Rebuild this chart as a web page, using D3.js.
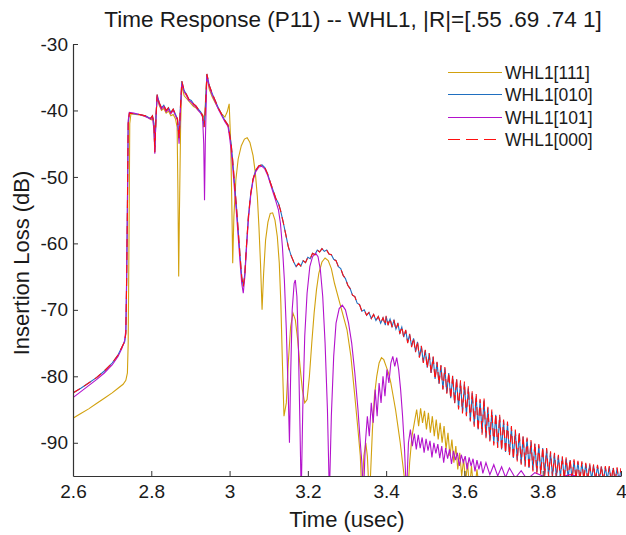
<!DOCTYPE html>
<html><head><meta charset="utf-8">
<script src="https://cdn.jsdelivr.net/npm/d3@7/dist/d3.min.js"></script>
<style>body{margin:0;background:#fff} svg{display:block} text{font-family:"Liberation Sans",Arial,sans-serif;fill:#1a1a1a}</style>
</head><body><svg id="c" width="626" height="535"></svg>
<script>
const xTicks=[2.6,2.8,3,3.2,3.4,3.6,3.8,4];
const yTicks=[-90,-80,-70,-60,-50,-40,-30];
const seriesNames=["WHL1[111]","WHL1[010]","WHL1[101]","WHL1[000]"];
const seriesColors=["#D2A10E","#1F6FC0","#B312CC","#FF1010"];

const whl111=[[2.600,-86.3],[2.620,-85.6],[2.640,-84.9],[2.660,-84.1],[2.680,-83.3],[2.700,-82.5],[2.715,-81.8],[2.728,-81.2],[2.735,-80.6],[2.739,-79.5],[2.741,-75],[2.743,-60],[2.745,-42],[2.748,-40.5],[2.760,-40.6],[2.775,-40.7],[2.790,-41.0],[2.800,-41.4],[2.805,-41.2],[2.809,-45.5],[2.812,-41],[2.815,-38.0],[2.820,-39.2],[2.826,-40.0],[2.832,-39.7],[2.838,-40.4],[2.844,-40.1],[2.850,-40.8],[2.856,-40.6],[2.862,-41.3],[2.866,-42.5],[2.868,-52],[2.870,-65],[2.872,-55],[2.875,-42],[2.878,-36.2],[2.884,-37.8],[2.890,-38.2],[2.896,-38.6],[2.902,-39.0],[2.908,-39.4],[2.914,-39.6],[2.920,-40.0],[2.926,-40.3],[2.931,-40.6],[2.936,-41.2],[2.939,-38],[2.942,-35.0],[2.948,-36.8],[2.956,-38.0],[2.964,-38.9],[2.972,-39.8],[2.980,-40.5],[2.988,-41.0],[2.994,-40.2],[2.999,-39.0],[3.003,-45],[3.006,-55],[3.008,-63],[3.011,-56],[3.016,-50.5],[3.022,-47.3],[3.030,-45.3],[3.038,-44.3],[3.045,-44.1],[3.052,-44.8],[3.060,-46.8],[3.066,-49.5],[3.071,-53],[3.075,-57.5],[3.079,-63],[3.083,-70],[3.087,-64.5],[3.092,-59.5],[3.098,-56.8],[3.104,-55.5],[3.110,-55.4],[3.116,-56.5],[3.122,-59],[3.127,-63],[3.131,-69],[3.135,-78],[3.139,-86],[3.145,-84],[3.150,-78],[3.156,-72.5],[3.162,-70.5],[3.168,-71.5],[3.174,-74.5],[3.180,-78.5],[3.186,-82],[3.192,-84],[3.198,-83.5],[3.204,-80],[3.210,-75],[3.216,-70.5],[3.222,-67],[3.228,-64.5],[3.236,-62.8],[3.244,-62.2],[3.252,-62.6],[3.260,-63.8],[3.268,-66],[3.284,-69.5],[3.300,-73],[3.310,-77],[3.320,-83],[3.328,-88],[3.334,-92],[3.338,-98],[3.343,-92],[3.348,-90],[3.352,-92],[3.356,-97],[3.360,-95],[3.365,-88],[3.370,-83],[3.376,-80],[3.382,-78],[3.388,-77.2],[3.394,-77.5],[3.400,-78.5],[3.406,-79.5],[3.412,-81],[3.418,-83],[3.424,-85],[3.430,-87.5],[3.436,-90],[3.442,-93],[3.448,-96],[3.454,-99],[3.460,-93],[3.466,-89],[3.472,-87],[3.478,-85],[3.483,-87.5],[3.488,-84.8],[3.493,-87],[3.498,-85.2],[3.503,-88],[3.508,-85.5],[3.513,-88.5],[3.518,-86],[3.523,-89],[3.528,-86.5],[3.533,-89.5],[3.538,-87],[3.543,-90],[3.548,-87.5],[3.553,-91],[3.558,-88.5],[3.563,-92],[3.568,-89.5],[3.573,-93],[3.578,-90.5],[3.583,-94],[3.588,-91.5],[3.593,-95],[3.598,-92.5],[3.603,-96],[3.608,-93],[3.613,-97],[3.618,-93.5],[3.625,-98],[3.632,-94],[3.640,-98],[3.650,-95],[3.660,-99],[3.670,-95.5],[3.685,-100],[3.720,-101],[4.000,-103]];

const whl010=[[2.600,-82.5],[2.620,-81.8],[2.640,-81.0],[2.660,-80.2],[2.680,-79.2],[2.700,-78.0],[2.715,-76.8],[2.725,-75.6],[2.732,-74.8],[2.735,-73.5],[2.737,-66],[2.739,-55],[2.741,-42],[2.744,-40.4],[2.755,-40.5],[2.770,-40.6],[2.785,-40.8],[2.798,-41.2],[2.803,-40.8],[2.807,-42],[2.809,-46.3],[2.812,-41],[2.815,-37.6],[2.820,-38.8],[2.826,-39.6],[2.832,-39.2],[2.838,-40.0],[2.844,-39.6],[2.850,-40.3],[2.856,-39.8],[2.862,-40.6],[2.867,-41.3],[2.871,-44.2],[2.874,-40],[2.878,-35.6],[2.884,-37.0],[2.890,-37.6],[2.896,-38.3],[2.902,-38.5],[2.908,-39.0],[2.914,-39.3],[2.920,-39.8],[2.926,-40.2],[2.931,-40.8],[2.935,-42.5],[2.938,-40],[2.942,-34.5],[2.948,-36.2],[2.956,-37.5],[2.964,-38.6],[2.972,-39.7],[2.980,-40.6],[2.988,-41.5],[2.996,-42.2],[3.000,-43.5],[3.004,-45.0],[3.008,-47.5],[3.012,-50.5],[3.017,-54.0],[3.022,-58.0],[3.027,-62.0],[3.031,-65.0],[3.035,-66.5],[3.039,-64.5],[3.043,-60.5],[3.048,-56.0],[3.054,-52.5],[3.060,-50.3],[3.067,-49.0],[3.075,-48.3],[3.083,-48.2],[3.090,-48.6],[3.097,-49.5],[3.104,-50.8],[3.111,-52.0],[3.118,-53.2],[3.125,-54.0],[3.130,-55.0],[3.137,-56.8],[3.143,-58.5],[3.150,-60.5],[3.157,-61.8],[3.164,-62.8],[3.170,-63.5],[3.176,-63.0],[3.182,-63.4],[3.188,-62.6],[3.194,-62.9],[3.200,-62.1],[3.206,-62.3],[3.212,-61.5],[3.218,-61.7],[3.224,-61.0],[3.230,-61.3],[3.236,-60.8],[3.242,-61.2],[3.248,-61.0],[3.254,-61.6],[3.260,-61.7],[3.266,-62.4],[3.272,-62.6],[3.278,-63.5],[3.284,-63.8],[3.290,-64.8],[3.296,-65.3],[3.302,-66.3],[3.308,-66.8],[3.314,-67.8],[3.320,-68.0],[3.326,-69.0],[3.332,-69.2],[3.338,-70.2],[3.344,-70.0],[3.350,-70.8],[3.356,-70.4],[3.362,-71.3],[3.368,-70.7],[3.374,-71.6],[3.380,-71.0],[3.386,-72.0],[3.392,-71.2],[3.398,-72.3],
[3.400,-71.0],[3.405,-72.2],[3.410,-71.4],[3.415,-72.5],[3.420,-71.6],[3.425,-72.9],[3.430,-72.1],[3.435,-73.5],[3.440,-72.6],[3.445,-74.1],[3.450,-73.1],[3.455,-74.9],[3.460,-73.7],[3.465,-75.5],[3.470,-74.3],[3.475,-76.3],[3.480,-74.8],[3.485,-77.1],[3.490,-75.5],[3.495,-77.9],[3.500,-76.1],[3.505,-78.7],[3.510,-76.6],[3.515,-79.5],[3.520,-77.1],[3.525,-80.4],[3.530,-77.9],[3.535,-81.1],[3.540,-78.4],[3.545,-81.9],[3.550,-78.8],[3.555,-82.5],[3.560,-79.5],[3.565,-83.3],[3.570,-80.0],[3.575,-84.0],[3.580,-80.5],[3.585,-84.8],[3.590,-80.9],[3.595,-85.4],[3.600,-81.2],[3.605,-85.8],[3.610,-81.8],[3.615,-86.6],[3.620,-82.5],[3.625,-87.3],[3.630,-83.0],[3.635,-88.0],[3.640,-83.6],[3.645,-88.5],[3.650,-83.6],[3.655,-89.1],[3.660,-84.8],[3.665,-89.6],[3.670,-85.3],[3.675,-90.1],[3.680,-85.8],[3.685,-90.6],[3.690,-86.1],[3.695,-91.0],[3.700,-86.7],[3.705,-91.4],[3.710,-87.1],[3.715,-91.8],[3.720,-87.7],[3.725,-92.3],[3.730,-88.2],[3.735,-92.6],[3.740,-88.6],[3.745,-93.1],[3.750,-89.1],[3.755,-93.4],[3.760,-89.4],[3.765,-93.8],[3.770,-89.8],[3.775,-94.1],[3.780,-90.2],[3.785,-94.4],[3.790,-90.4],[3.795,-94.6],[3.800,-90.8],[3.805,-94.8],[3.810,-91.0],[3.815,-95.0],[3.820,-91.5],[3.825,-95.1],[3.830,-91.7],[3.835,-95.3],[3.840,-92.0],[3.845,-95.2],[3.850,-92.2],[3.855,-95.4],[3.860,-92.4],[3.865,-95.3],[3.870,-92.6],[3.875,-95.5],[3.880,-92.7],[3.885,-95.4],[3.890,-92.9],[3.895,-95.6],[3.900,-93.0],[3.905,-95.4],[3.910,-93.2],[3.915,-95.6],[3.920,-93.3],[3.925,-95.5],[3.930,-93.4],[3.935,-95.6],[3.940,-93.5],[3.945,-95.5],[3.950,-93.6],[3.955,-95.7],[3.960,-93.7],[3.965,-95.5],[3.970,-93.7],[3.975,-95.7],[3.980,-93.8],[3.985,-95.6],[3.990,-93.9],[3.995,-95.7],[4.000,-94.0]];

const whl101=[[2.600,-83.2],[2.620,-82.3],[2.640,-81.4],[2.660,-80.5],[2.680,-79.5],[2.700,-78.3],[2.715,-77.0],[2.725,-75.8],[2.732,-74.6],[2.735,-73.0],[2.737,-65],[2.739,-54],[2.741,-41.5],[2.744,-40.3],[2.755,-40.4],[2.770,-40.6],[2.785,-40.9],[2.798,-41.3],[2.803,-41],[2.807,-43],[2.809,-46.5],[2.812,-41],[2.815,-37.8],[2.820,-39],[2.826,-39.8],[2.832,-39.4],[2.838,-40.2],[2.844,-39.8],[2.850,-40.5],[2.856,-40.0],[2.862,-40.8],[2.867,-41.5],[2.871,-45],[2.874,-40.5],[2.878,-36.0],[2.884,-37.2],[2.890,-37.8],[2.896,-38.5],[2.902,-38.7],[2.908,-39.2],[2.914,-39.5],[2.920,-40.0],[2.926,-40.4],[2.931,-41.0],[2.934,-45],[2.936,-53.5],[2.938,-45],[2.942,-34.8],[2.948,-36.4],[2.956,-37.7],[2.964,-38.8],[2.972,-39.9],[2.980,-40.8],[2.988,-41.7],[2.996,-42.4],[3.000,-44.0],[3.004,-46.0],[3.008,-48.5],[3.012,-51.5],[3.017,-55.0],[3.022,-59.0],[3.027,-63.0],[3.031,-66.0],[3.035,-67.5],[3.039,-65.0],[3.043,-61.0],[3.048,-56.5],[3.054,-52.8],[3.060,-50.5],[3.067,-49.2],[3.075,-48.5],[3.083,-48.4],[3.090,-48.8],[3.097,-49.7],[3.104,-51.0],[3.111,-52.3],[3.118,-53.6],[3.125,-55.0],[3.130,-57.0],[3.135,-60.5],[3.140,-65.5],[3.145,-73],[3.150,-83],[3.153,-90],[3.156,-80],[3.160,-70],[3.165,-66],[3.168,-65.5],[3.172,-68],[3.176,-76],[3.180,-88],[3.183,-98],[3.187,-85],[3.192,-74],[3.198,-67.5],[3.205,-63.5],[3.212,-62],[3.220,-61.5],[3.226,-62],[3.232,-64],[3.238,-68],[3.244,-75],[3.250,-85],[3.255,-98],[3.260,-86],[3.266,-77],[3.272,-72],[3.280,-69.8],[3.288,-69.3],[3.296,-70],[3.304,-72],[3.312,-75],[3.320,-79.5],[3.328,-85],[3.334,-90],[3.338,-93],[3.342,-98],[3.347,-90],[3.352,-86],[3.357,-89],[3.362,-84],[3.367,-87],[3.372,-82],[3.377,-86],[3.382,-81],[3.387,-84],[3.392,-80],[3.397,-83],[3.402,-79],[3.407,-81],[3.412,-78],[3.417,-77],[3.422,-78.5],[3.427,-77.2],[3.432,-79],[3.437,-82],[3.442,-86],[3.447,-91],[3.452,-98],[3.457,-90],[3.462,-88],[3.467,-90.5],[3.472,-88.6],[3.477,-91],[3.482,-88.8],[3.487,-90.8],[3.492,-89.2],[3.497,-91.5],[3.502,-89.4],[3.507,-91.2],[3.512,-89.7],[3.517,-92.2],[3.522,-90],[3.527,-91.6],[3.532,-90.2],[3.537,-92.3],[3.542,-90.5],[3.547,-93],[3.552,-90.8],[3.557,-92.4],[3.562,-91],[3.567,-93.2],[3.572,-91.2],[3.577,-92.6],[3.582,-91.5],[3.587,-93.5],[3.592,-91.8],[3.597,-93],[3.602,-92],[3.607,-94],[3.612,-92.2],[3.617,-93.5],[3.622,-92.4],[3.627,-94.3],[3.632,-92.6],[3.637,-94],[3.642,-92.8],[3.647,-94.6],[3.655,-93],[3.665,-94.8],[3.675,-93.3],[3.685,-95],[3.695,-93.6],[3.705,-95.2],[3.715,-93.8],[3.730,-95.3],[3.745,-94.2],[3.760,-95.5],[3.780,-94.5],[3.820,-95.5],[3.870,-94.8],[3.930,-95.6],[4.000,-95.0]];

const whl000=[[2.600,-82.5],[2.620,-81.8],[2.640,-81.0],[2.660,-80.2],[2.680,-79.2],[2.700,-78.0],[2.715,-76.8],[2.725,-75.6],[2.732,-74.8],[2.735,-73.5],[2.737,-66],[2.739,-55],[2.741,-42],[2.744,-40.4],[2.755,-40.5],[2.770,-40.6],[2.785,-40.8],[2.798,-41.2],[2.803,-40.8],[2.807,-42],[2.809,-46.3],[2.812,-41],[2.815,-37.6],[2.820,-38.8],[2.826,-39.6],[2.832,-39.2],[2.838,-40.0],[2.844,-39.6],[2.850,-40.3],[2.856,-39.8],[2.862,-40.6],[2.867,-41.3],[2.871,-44.2],[2.874,-40],[2.878,-35.6],[2.884,-37.0],[2.890,-37.6],[2.896,-38.3],[2.902,-38.5],[2.908,-39.0],[2.914,-39.3],[2.920,-39.8],[2.926,-40.2],[2.931,-40.8],[2.935,-42.5],[2.938,-40],[2.942,-34.5],[2.948,-36.2],[2.956,-37.5],[2.964,-38.6],[2.972,-39.7],[2.980,-40.6],[2.988,-41.5],[2.996,-42.2],[3.000,-43.5],[3.004,-45.0],[3.008,-47.5],[3.012,-50.5],[3.017,-54.0],[3.022,-58.0],[3.027,-62.0],[3.031,-65.0],[3.035,-66.5],[3.039,-64.5],[3.043,-60.5],[3.048,-56.0],[3.054,-52.5],[3.060,-50.3],[3.067,-49.0],[3.075,-48.3],[3.083,-48.2],[3.090,-48.6],[3.097,-49.5],[3.104,-50.8],[3.111,-52.0],[3.118,-53.2],[3.125,-54.0],[3.130,-55.0],[3.137,-56.8],[3.143,-58.5],[3.150,-60.5],[3.157,-61.8],[3.164,-62.8],[3.170,-63.5],[3.176,-63.0],[3.182,-63.4],[3.188,-62.6],[3.194,-62.9],[3.200,-62.1],[3.206,-62.3],[3.212,-61.5],[3.218,-61.7],[3.224,-61.0],[3.230,-61.3],[3.236,-60.8],[3.242,-61.2],[3.248,-61.0],[3.254,-61.6],[3.260,-61.7],[3.266,-62.4],[3.272,-62.6],[3.278,-63.5],[3.284,-63.8],[3.290,-64.8],[3.296,-65.3],[3.302,-66.3],[3.308,-66.8],[3.314,-67.8],[3.320,-68.0],[3.326,-69.0],[3.332,-69.2],[3.338,-70.2],[3.344,-70.0],[3.350,-70.8],[3.356,-70.4],[3.362,-71.3],[3.368,-70.7],[3.374,-71.6],[3.380,-71.0],[3.386,-72.0],[3.392,-71.2],[3.398,-72.3],
[3.400,-70.9],[3.405,-72.3],[3.410,-71.3],[3.415,-72.6],[3.420,-71.5],[3.425,-73.0],[3.430,-72.0],[3.435,-73.6],[3.440,-72.5],[3.445,-74.2],[3.450,-73.0],[3.455,-75.0],[3.460,-73.6],[3.465,-75.6],[3.470,-74.2],[3.475,-76.4],[3.480,-74.7],[3.485,-77.2],[3.490,-75.4],[3.495,-78.0],[3.500,-76.0],[3.505,-78.8],[3.510,-76.5],[3.515,-79.6],[3.520,-77.0],[3.525,-80.5],[3.530,-77.8],[3.535,-81.2],[3.540,-78.3],[3.545,-82.0],[3.550,-78.6],[3.555,-82.6],[3.560,-79.4],[3.565,-83.4],[3.570,-79.8],[3.575,-84.2],[3.580,-80.3],[3.585,-85.0],[3.590,-80.6],[3.595,-85.6],[3.600,-80.8],[3.605,-86.0],[3.610,-81.5],[3.615,-86.8],[3.620,-82.2],[3.625,-87.6],[3.630,-82.6],[3.635,-88.2],[3.640,-83.4],[3.645,-88.8],[3.650,-83.2],[3.655,-89.3],[3.660,-84.6],[3.665,-89.8],[3.670,-85.0],[3.675,-90.4],[3.680,-85.6],[3.685,-90.8],[3.690,-85.8],[3.695,-91.2],[3.700,-86.5],[3.705,-91.6],[3.710,-86.8],[3.715,-92.0],[3.720,-87.5],[3.725,-92.5],[3.730,-88.0],[3.735,-92.8],[3.740,-88.3],[3.745,-93.3],[3.750,-88.9],[3.755,-93.6],[3.760,-89.2],[3.765,-94.0],[3.770,-89.6],[3.775,-94.3],[3.780,-90.0],[3.785,-94.6],[3.790,-90.2],[3.795,-94.8],[3.800,-90.6],[3.805,-95.0],[3.810,-90.8],[3.815,-95.2],[3.820,-91.3],[3.825,-95.3],[3.830,-91.5],[3.835,-95.5],[3.840,-91.8],[3.845,-95.4],[3.850,-92.0],[3.855,-95.6],[3.860,-92.2],[3.865,-95.5],[3.870,-92.4],[3.875,-95.7],[3.880,-92.5],[3.885,-95.6],[3.890,-92.7],[3.895,-95.8],[3.900,-92.8],[3.905,-95.6],[3.910,-93.0],[3.915,-95.8],[3.920,-93.1],[3.925,-95.7],[3.930,-93.2],[3.935,-95.8],[3.940,-93.3],[3.945,-95.7],[3.950,-93.4],[3.955,-95.9],[3.960,-93.5],[3.965,-95.7],[3.970,-93.5],[3.975,-95.9],[3.980,-93.6],[3.985,-95.8],[3.990,-93.7],[3.995,-95.9],[4.000,-93.8]];

const seriesData=[whl111,whl010,whl101,whl000];

const svg=d3.select("#c");
const X0=73,X1=621,Y0=44,Y1=476;
const x=d3.scaleLinear().domain([2.6,4]).range([X0,X1]);
const y=d3.scaleLinear().domain([-95,-30]).range([Y1,Y0]);

svg.append("defs").append("clipPath").attr("id","clip")
  .append("rect").attr("x",X0).attr("y",Y0).attr("width",X1-X0).attr("height",Y1-Y0);

const line=d3.line().x(d=>x(d[0])).y(d=>y(d[1]));
const g=svg.append("g").attr("clip-path","url(#clip)");
seriesData.forEach((data,i)=>{
  g.append("path").datum(data).attr("d",line).attr("fill","none")
    .attr("stroke",seriesColors[i]).attr("stroke-width",1.1)
    .attr("stroke-dasharray",i===3?"8,5":null);
});

const fmt=d=>String(+d.toFixed(1));
const xa=svg.append("g").attr("transform",`translate(0,${Y1})`)
  .call(d3.axisBottom(x).tickValues(xTicks).tickFormat(fmt).tickSizeInner(-5).tickSizeOuter(0).tickPadding(9));
const ya=svg.append("g").attr("transform",`translate(${X0},0)`)
  .call(d3.axisLeft(y).tickValues(yTicks).tickFormat(fmt).tickSizeInner(-5).tickSizeOuter(0).tickPadding(5));
[xa,ya].forEach(a=>{
  a.selectAll("path.domain").attr("stroke","#333").attr("stroke-width",1.2);
  a.selectAll(".tick line").attr("stroke","#333");
  a.selectAll(".tick text").attr("font-size",19).attr("fill","#1a1a1a").attr("font-family","Liberation Sans, Arial, sans-serif");
});

svg.append("text").attr("x",353).attr("y",27).attr("text-anchor","middle").attr("font-size",22.5)
  .text("Time Response (P11) -- WHL1, |R|=[.55 .69 .74 1]");
svg.append("text").attr("x",347).attr("y",527).attr("text-anchor","middle").attr("font-size",22)
  .text("Time (usec)");
svg.append("text").attr("transform","translate(29,263) rotate(-90)").attr("text-anchor","middle").attr("font-size",22)
  .text("Insertion Loss (dB)");

const legY=[72.5,94.5,117.5,139.5];
const lg=svg.append("g");
seriesNames.forEach((n,i)=>{
  lg.append("line").attr("x1",448).attr("x2",502).attr("y1",legY[i]).attr("y2",legY[i])
    .attr("stroke",seriesColors[i]).attr("stroke-width",1.2).attr("stroke-dasharray",i===3?"12,6":null);
  lg.append("text").attr("x",505).attr("y",legY[i]).attr("dy","0.35em").attr("font-size",17.5).text(n);
});
</script></body></html>
